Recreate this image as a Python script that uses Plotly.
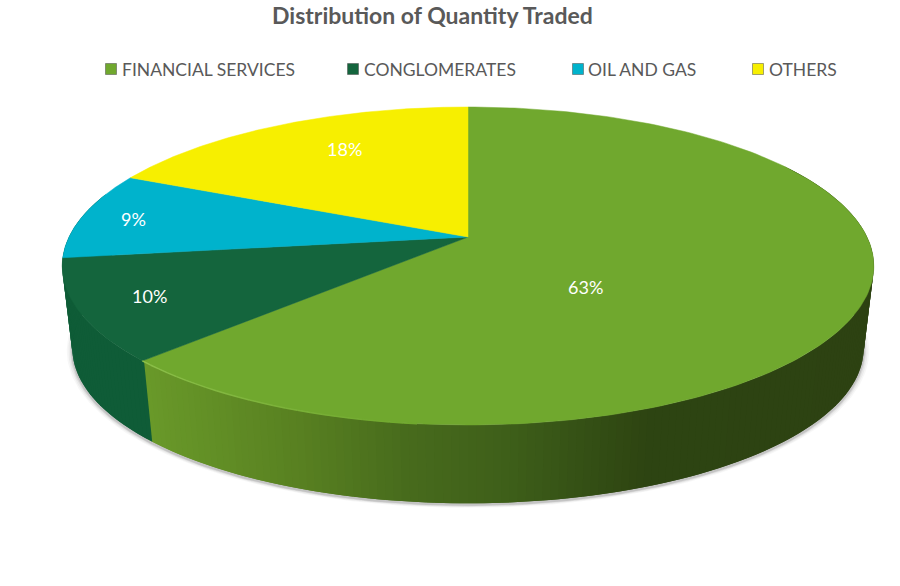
import numpy as np
import plotly.graph_objects as go

categories = ['FINANCIAL SERVICES', 'CONGLOMERATES', 'OIL AND GAS', 'OTHERS']
shares = [62.6, 10.3, 8.9, 18.2]
top_colors = ['#70a82e', '#14653d', '#00b3cc', '#f7ef00']
legend_x = [111, 353, 578, 758]
legend_text_x = [120, 362, 586, 767]
label_x = [585, 149, 133, 344]
label_y = [287, 296, 219, 149]

# perspective of the disc, in picture pixels
CX, CY = 468, 237
BX, BY, K = 399, 153.7, 0.1824
DROP, SHRINK = 83, 0.975


def project(theta, r=1.0, drop=0.0, scale=1.0):
  u, v = r*np.sin(theta), -r*np.cos(theta)
  d = 1 - K*v
  return CX + scale*BX*u/d, CY + drop + scale*BY*v/d


def poly(x, y, color, width=0):
  return go.Scatter(x=x, y=y, mode='lines', fill='toself', fillcolor=color,
                    line=dict(color=color, width=width), hoverinfo='skip', showlegend=False)


fig = go.Figure()

# soft shadow under the disc
full = np.linspace(0, 2*np.pi, 361)
for grow, alpha in [(1.014, 0.04), (1.010, 0.06), (1.006, 0.09), (1.003, 0.14)]:
  sx, sy = project(full, drop=DROP + 2, scale=SHRINK*grow)
  fig.add_trace(poly(sx, sy, f'rgba(60,60,60,{alpha})'))

cum = np.cumsum(shares)/sum(shares)*2*np.pi
edges = np.concatenate([[0], cum])

# side wall, colour runs with screen x; each quad overlaps the next one to hide seams
wall_x = [143, 300, 400, 500, 640, 900]
wall_r = [0x6a, 0x58, 0x48, 0x3f, 0x2e, 0x2d]
wall_g = [0x9a, 0x80, 0x6c, 0x60, 0x45, 0x42]
wall_b = [0x2a, 0x21, 0x1d, 0x1a, 0x12, 0x12]
steps = np.radians(np.arange(60, 288, 1.0))
for a, b, e in zip(steps[:-2], steps[1:-1], steps[2:]):
  tx, ty = project(np.array([a, e]))
  bx, by = project(np.array([e, a]), drop=DROP, scale=SHRINK)
  if (a + b)/2 < cum[0]:
    mid = (tx.mean() + bx.mean())/2
    c = 'rgb(%d,%d,%d)' % (np.interp(mid, wall_x, wall_r), np.interp(mid, wall_x, wall_g), np.interp(mid, wall_x, wall_b))
  else:
    c = '#0f5c37'
  fig.add_trace(poly(np.r_[tx, bx], np.r_[ty, by], c))

# top face
for i, color in enumerate(top_colors):
  t = np.linspace(edges[i], edges[i + 1], 200)
  x, y = project(t)
  fig.add_trace(poly(np.r_[CX, x, CX], np.r_[CY, y, CY], color, 0.5))

# lit rim on the front of the big slice, fading out towards the middle
rim = np.radians(np.linspace(186, cum[0]*180/np.pi, 25))
for i, (a, b) in enumerate(zip(rim[:-1], rim[1:])):
  f = i/(len(rim) - 2)
  c = 'rgb(%d,%d,%d)' % (0x70 + f*(0x8c - 0x70), 0xa8 + f*(0xc0 - 0xa8), 0x2e + f*(0x4a - 0x2e))
  hx, hy = project(np.array([a, b]))
  fig.add_trace(go.Scatter(x=hx, y=hy, mode='lines', line=dict(color=c, width=1.5),
                           hoverinfo='skip', showlegend=False))

# legend
for i, name in enumerate(categories):
  fig.add_trace(go.Scatter(x=[legend_x[i]], y=[69], mode='markers', hoverinfo='skip', showlegend=False,
                           marker=dict(symbol='square', size=11, color=top_colors[i],
                                       line=dict(color='#4a4a4a', width=0.5))))
  fig.add_annotation(x=legend_text_x[i], y=69, text=name, showarrow=False, xanchor='left',
                     font=dict(family='Lato', size=17.5, color='#595959'))

for x, y, v in zip(label_x, label_y, shares):
  fig.add_annotation(x=x, y=y, text=f'{round(v)}%', showarrow=False, font=dict(family='Lato', size=18, color='white'))

fig.add_annotation(x=432, y=14.5, text='<b>Distribution of Quantity Traded</b>', showarrow=False, borderpad=0,
                   font=dict(family='Lato', size=23, color='#595959'))

fig.update_layout(width=900, height=586, margin=dict(l=0, r=0, t=0, b=0), showlegend=False,
                  paper_bgcolor='white', plot_bgcolor='white',
                  xaxis=dict(range=[0, 900], visible=False, fixedrange=True),
                  yaxis=dict(range=[586, 0], visible=False, fixedrange=True))
# drop the page's default body margin so the plot fills the window
fig.write_html("out.html", config=dict(displayModeBar=False), post_script="document.body.style.margin='0';")
